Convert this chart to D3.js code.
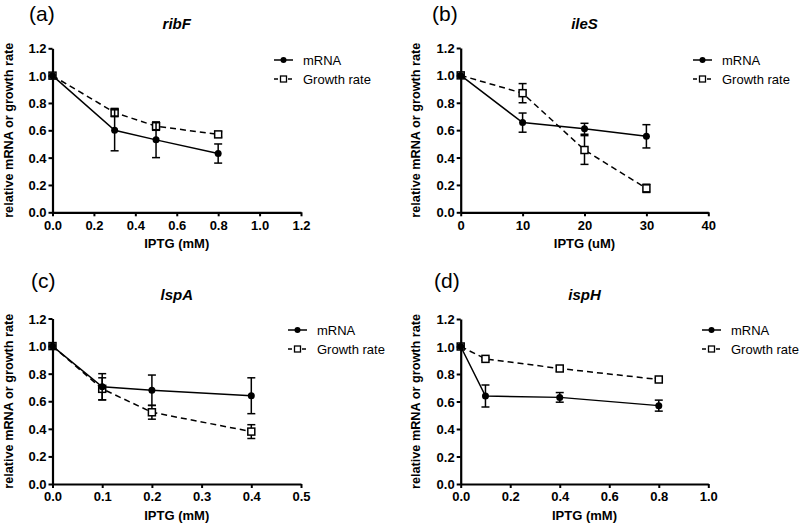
<!DOCTYPE html>
<html>
  <head>
    <script src="https://d3js.org/d3.v7.min.js"></script>
    <style>
      body { margin: 0; background: #fff; }
      text { font-family: "Liberation Sans", Arial, sans-serif; }
    </style>
  </head>
  <body>
<script type="text/javascript">
// panel data: x dose, y mean, e error (sd)
var ribF_x = [0, 0.3, 0.5, 0.8];
var ribF_mrna = [1.0, 0.60, 0.53, 0.43];
var ribF_mrna_err = [0, 0.15, 0.13, 0.07];
var ribF_growth = [1.0, 0.73, 0.63, 0.57];
var ribF_growth_err = [0, 0.03, 0.03, 0.02];

var ileS_x = [0, 10, 20, 30];
var ileS_mrna = [1.0, 0.655, 0.61, 0.555];
var ileS_mrna_err = [0, 0.07, 0.04, 0.085];
var ileS_growth = [1.0, 0.87, 0.455, 0.175];
var ileS_growth_err = [0, 0.07, 0.105, 0.03];

var lspA_x = [0, 0.1, 0.2, 0.4];
var lspA_mrna = [1.0, 0.705, 0.68, 0.64];
var lspA_mrna_err = [0, 0.095, 0.11, 0.13];
var lspA_growth = [1.0, 0.69, 0.52, 0.38];
var lspA_growth_err = [0, 0.08, 0.05, 0.05];

var ispH_x = [0, 0.1, 0.4, 0.8];
var ispH_mrna = [1.0, 0.64, 0.63, 0.57];
var ispH_mrna_err = [0, 0.08, 0.035, 0.04];
var ispH_growth = [1.0, 0.91, 0.84, 0.76];
var ispH_growth_err = [0, 0.01, 0.02, 0.01];

var yTicks = [0, 0.2, 0.4, 0.6, 0.8, 1.0, 1.2];
var legendNames = ['mRNA', 'Growth rate'];

var panels = [
  {tag: '(a)', gene: 'ribF', xlab: 'IPTG (mM)', xmax: 1.2, xticks: [0, 0.2, 0.4, 0.6, 0.8, 1.0, 1.2], fmt: d3.format('.1f'),
   x: ribF_x, m: ribF_mrna, me: ribF_mrna_err, g: ribF_growth, ge: ribF_growth_err,
   left: 52.5, right: 301, top: 48.3, bottom: 212.3, legX: 274, legY: 60, tagX: 29, tagY: 21, ylabX: 9},
  {tag: '(b)', gene: 'ileS', xlab: 'IPTG (uM)', xmax: 40, xticks: [0, 10, 20, 30, 40], fmt: d3.format('d'),
   x: ileS_x, m: ileS_mrna, me: ileS_mrna_err, g: ileS_growth, ge: ileS_growth_err,
   left: 460.7, right: 708.3, top: 48, bottom: 212.3, legX: 693, legY: 60, tagX: 432, tagY: 21, ylabX: 416},
  {tag: '(c)', gene: 'lspA', xlab: 'IPTG (mM)', xmax: 0.5, xticks: [0, 0.1, 0.2, 0.3, 0.4, 0.5], fmt: d3.format('.1f'),
   x: lspA_x, m: lspA_mrna, me: lspA_mrna_err, g: lspA_growth, ge: lspA_growth_err,
   left: 52.5, right: 301, top: 318.5, bottom: 484, legX: 288, legY: 330, tagX: 31, tagY: 288, ylabX: 9},
  {tag: '(d)', gene: 'ispH', xlab: 'IPTG (mM)', xmax: 1.0, xticks: [0, 0.2, 0.4, 0.6, 0.8, 1.0], fmt: d3.format('.1f'),
   x: ispH_x, m: ispH_mrna, me: ispH_mrna_err, g: ispH_growth, ge: ispH_growth_err,
   left: 460.7, right: 708.3, top: 319, bottom: 484, legX: 702, legY: 330, tagX: 434, tagY: 288, ylabX: 416}
];

var svg = d3.select('body').append('svg')
    .attr('width', 800)
    .attr('height', 526);

function drawSeries(g, xs, ys, xv, yv, ev, dashed, square) {
  var pts = xv.map(function(d, i) { return {x: d, y: yv[i], e: ev[i]}; });
  var line = d3.line().x(function(d) { return xs(d.x); }).y(function(d) { return ys(d.y); });
  g.append('path')
      .datum(pts)
      .attr('d', line)
      .attr('fill', 'none')
      .attr('stroke', '#000')
      .attr('stroke-width', 1.5)
      .attr('stroke-dasharray', dashed ? '6,4' : null);

  var eb = g.append('g').selectAll('g').data(pts.filter(function(d) { return d.e > 0; })).enter().append('g')
      .attr('stroke', '#000').attr('stroke-width', 1.5);
  eb.append('line')
      .attr('x1', function(d) { return xs(d.x); }).attr('x2', function(d) { return xs(d.x); })
      .attr('y1', function(d) { return ys(d.y - d.e); }).attr('y2', function(d) { return ys(d.y + d.e); });
  [-1, 1].forEach(function(s) {
    eb.append('line')
        .attr('x1', function(d) { return xs(d.x) - 4; }).attr('x2', function(d) { return xs(d.x) + 4; })
        .attr('y1', function(d) { return ys(d.y + s * d.e); }).attr('y2', function(d) { return ys(d.y + s * d.e); });
  });

  if (square) {
    g.append('g').selectAll('rect').data(pts).enter().append('rect')
        .attr('x', function(d) { return xs(d.x) - 3.5; })
        .attr('y', function(d) { return ys(d.y) - 3.5; })
        .attr('width', 7).attr('height', 7)
        .attr('fill', '#fff').attr('stroke', '#000').attr('stroke-width', 1.5);
  } else {
    g.append('g').selectAll('circle').data(pts).enter().append('circle')
        .attr('cx', function(d) { return xs(d.x); })
        .attr('cy', function(d) { return ys(d.y); })
        .attr('r', 3.5)
        .attr('fill', '#000');
  }
}

panels.forEach(function(p) {
  var xs = d3.scaleLinear().domain([0, p.xmax]).range([p.left, p.right]);
  var ys = d3.scaleLinear().domain([0, 1.2]).range([p.bottom, p.top]);
  var g = svg.append('g');

  var xAxis = g.append('g')
      .attr('transform', 'translate(0,' + p.bottom + ')')
      .call(d3.axisBottom(xs).tickValues(p.xticks).tickFormat(p.fmt).tickSize(4).tickPadding(4).tickSizeOuter(0));
  var yAxis = g.append('g')
      .attr('transform', 'translate(' + p.left + ',0)')
      .call(d3.axisLeft(ys).tickValues(yTicks).tickFormat(d3.format('.1f')).tickSize(4).tickPadding(2).tickSizeOuter(0));
  [xAxis, yAxis].forEach(function(a) {
    a.select('.domain').attr('stroke-width', 2.2);
    a.selectAll('.tick line').attr('stroke-width', 2);
    a.selectAll('.tick text')
        .attr('font-family', '"Liberation Sans", Arial, sans-serif')
        .attr('font-size', 13).attr('font-weight', 'bold').attr('fill', '#000');
  });
  yAxis.selectAll('.tick text').attr('dy', '0.35em');

  // growth rate (dashed, open squares) then mRNA on top
  drawSeries(g, xs, ys, p.x, p.g, p.ge, true, true);
  drawSeries(g, xs, ys, p.x, p.m, p.me, false, false);

  g.append('text')
      .attr('x', p.tagX).attr('y', p.tagY)
      .attr('font-size', 21)
      .text(p.tag);
  g.append('text')
      .attr('x', (p.left + p.right) / 2).attr('y', p.top - 19)
      .attr('text-anchor', 'middle')
      .attr('font-size', 15).attr('font-weight', 'bold').attr('font-style', 'italic')
      .text(p.gene);
  g.append('text')
      .attr('x', (p.left + p.right) / 2).attr('y', p.bottom + 36)
      .attr('text-anchor', 'middle')
      .attr('font-size', 13).attr('font-weight', 'bold')
      .text(p.xlab);
  g.append('text')
      .attr('transform', 'translate(' + p.ylabX + ',' + ((p.top + p.bottom) / 2) + ') rotate(-90)')
      .attr('text-anchor', 'middle')
      .attr('dy', '0.35em')
      .attr('font-size', 12.7).attr('font-weight', 'bold')
      .text('relative mRNA or growth rate');

  // legend
  var leg = g.append('g').attr('transform', 'translate(' + p.legX + ',' + p.legY + ')');
  legendNames.forEach(function(name, i) {
    var row = leg.append('g').attr('transform', 'translate(0,' + (i * 19) + ')');
    row.append('line')
        .attr('x1', 0).attr('x2', 19).attr('y1', 0).attr('y2', 0)
        .attr('stroke', '#000').attr('stroke-width', 1.5)
        .attr('stroke-dasharray', i === 1 ? '4,3' : null);
    if (i === 0) {
      row.append('circle').attr('cx', 9.5).attr('cy', 0).attr('r', 3).attr('fill', '#000');
    } else {
      row.append('rect').attr('x', 6.5).attr('y', -3).attr('width', 6).attr('height', 6)
          .attr('fill', '#fff').attr('stroke', '#000').attr('stroke-width', 1.3);
    }
    row.append('text')
        .attr('x', 29).attr('y', 0).attr('dy', '0.35em')
        .attr('font-size', 13)
        .text(name);
  });
});
</script>
  </body>
</html>
